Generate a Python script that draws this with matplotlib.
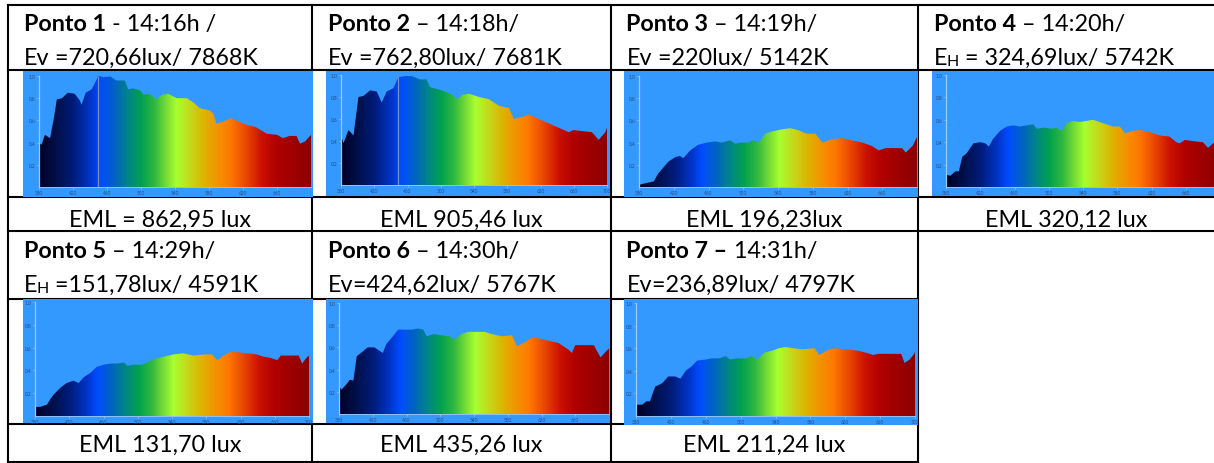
import numpy as np
import matplotlib
matplotlib.use("Agg")
import matplotlib.pyplot as plt
from matplotlib.colors import LinearSegmentedColormap, Normalize
from matplotlib.patches import PathPatch

# ---------------- data ----------------
points = ["Ponto 1", "Ponto 2", "Ponto 3", "Ponto 4", "Ponto 5", "Ponto 6", "Ponto 7 –"]
times = [" - 14:16h /", " – 14:18h/", " – 14:19h/", " – 14:20h/", " – 14:29h/", " – 14:30h/", " 14:31h/"]
# illuminance label: (symbol, subscript, rest)
illum = [("Ev", "", " =720,66lux/ 7868K"), ("Ev", "", " =762,80lux/ 7681K"),
         ("Ev", "", " =220lux/ 5142K"), ("E", "H", " = 324,69lux/ 5742K"),
         ("E", "H", " =151,78lux/ 4591K"), ("Ev", "", "=424,62lux/ 5767K"),
         ("Ev", "", "=236,89lux/ 4797K")]
eml = ["EML = 862,95 lux", "EML 905,46 lux", "EML 196,23lux", "EML 320,12 lux",
       "EML 131,70 lux", "EML 435,26 lux", "EML 211,24 lux"]

wl1 = [380, 383, 387, 393, 397, 401, 407, 414, 422, 428, 430, 435, 442, 450, 456, 464, 471, 481, 485, 491, 499, 503, 510, 518, 524, 532, 542, 554, 562, 569, 581, 585, 589, 597, 605, 612, 624, 635, 648, 660, 667, 675, 683, 687, 693, 700]
sp1 = [0.40, 0.38, 0.47, 0.44, 0.60, 0.79, 0.80, 0.85, 0.84, 0.78, 0.74, 0.85, 0.88, 1.00, 0.99, 0.995, 0.96, 0.96, 0.88, 0.89, 0.87, 0.83, 0.84, 0.79, 0.83, 0.84, 0.80, 0.80, 0.76, 0.71, 0.69, 0.66, 0.57, 0.59, 0.62, 0.60, 0.56, 0.54, 0.48, 0.47, 0.44, 0.46, 0.46, 0.39, 0.41, 0.47]

wl2 = [380, 383, 389, 395, 401, 407, 415, 423, 429, 435, 443, 449, 457, 465, 475, 483, 487, 497, 505, 514, 520, 526, 534, 546, 558, 570, 582, 588, 598, 606, 618, 630, 642, 654, 660, 670, 682, 690, 698, 700]
sp2 = [0.45, 0.38, 0.50, 0.45, 0.80, 0.81, 0.86, 0.85, 0.75, 0.85, 0.88, 0.98, 0.99, 0.99, 0.96, 0.96, 0.89, 0.87, 0.85, 0.82, 0.78, 0.82, 0.83, 0.80, 0.78, 0.72, 0.70, 0.60, 0.62, 0.64, 0.60, 0.56, 0.52, 0.48, 0.50, 0.49, 0.48, 0.41, 0.48, 0.52]

wl3 = [380, 391, 397, 402, 414, 422, 427, 431, 439, 448, 458, 468, 475, 485, 491, 498, 506, 511, 518, 525, 533, 545, 554, 564, 573, 583, 591, 602, 614, 625, 637, 648, 656, 664, 675, 683, 687, 695, 700]
sp3 = [0.02, 0.04, 0.05, 0.12, 0.23, 0.27, 0.28, 0.26, 0.33, 0.38, 0.40, 0.41, 0.40, 0.42, 0.39, 0.40, 0.40, 0.42, 0.40, 0.48, 0.50, 0.52, 0.53, 0.51, 0.48, 0.48, 0.40, 0.43, 0.44, 0.42, 0.40, 0.37, 0.33, 0.35, 0.35, 0.35, 0.31, 0.37, 0.45]

wl4 = [380, 385, 391, 395, 399, 404, 412, 420, 426, 430, 435, 443, 451, 459, 466, 474, 482, 486, 494, 503, 509, 515, 521, 528, 536, 544, 552, 563, 575, 583, 589, 598, 606, 618, 630, 641, 649, 653, 659, 668, 680, 686, 692, 700]
sp4 = [0.11, 0.10, 0.14, 0.14, 0.27, 0.30, 0.39, 0.40, 0.39, 0.36, 0.43, 0.50, 0.54, 0.55, 0.54, 0.55, 0.56, 0.52, 0.53, 0.52, 0.53, 0.50, 0.57, 0.59, 0.58, 0.59, 0.60, 0.57, 0.54, 0.54, 0.48, 0.50, 0.51, 0.49, 0.46, 0.45, 0.40, 0.39, 0.42, 0.41, 0.40, 0.35, 0.39, 0.44]

wl5 = [380, 386, 394, 398, 402, 410, 417, 425, 431, 437, 445, 452, 460, 468, 476, 484, 488, 495, 505, 511, 519, 530, 542, 553, 565, 577, 587, 593, 600, 608, 616, 628, 639, 647, 655, 663, 667, 678, 688, 692, 697, 700]
sp5 = [0.08, 0.08, 0.10, 0.15, 0.19, 0.25, 0.29, 0.31, 0.29, 0.34, 0.38, 0.43, 0.45, 0.46, 0.46, 0.47, 0.44, 0.45, 0.45, 0.47, 0.50, 0.52, 0.54, 0.55, 0.53, 0.54, 0.54, 0.49, 0.53, 0.56, 0.56, 0.55, 0.54, 0.52, 0.51, 0.49, 0.53, 0.53, 0.53, 0.46, 0.51, 0.53]

wl6 = [380, 383, 389, 393, 397, 401, 406, 414, 422, 428, 432, 436, 444, 450, 458, 466, 474, 480, 484, 492, 501, 511, 517, 525, 533, 541, 553, 561, 573, 585, 591, 601, 609, 618, 628, 640, 652, 656, 660, 672, 682, 690, 696, 700]
sp6 = [0.25, 0.22, 0.27, 0.31, 0.30, 0.52, 0.55, 0.60, 0.60, 0.57, 0.55, 0.63, 0.70, 0.76, 0.76, 0.76, 0.77, 0.76, 0.70, 0.72, 0.71, 0.70, 0.67, 0.72, 0.74, 0.74, 0.74, 0.72, 0.70, 0.71, 0.61, 0.65, 0.69, 0.68, 0.66, 0.64, 0.58, 0.55, 0.62, 0.62, 0.62, 0.51, 0.56, 0.59]

wl7 = [380, 387, 392, 396, 402, 410, 417, 425, 431, 437, 444, 450, 460, 467, 475, 483, 488, 496, 506, 513, 519, 527, 537, 544, 552, 560, 571, 585, 590, 602, 609, 621, 633, 644, 652, 658, 663, 675, 684, 688, 694, 699, 702]
sp7 = [0.10, 0.10, 0.13, 0.13, 0.26, 0.29, 0.35, 0.35, 0.33, 0.40, 0.44, 0.49, 0.50, 0.51, 0.51, 0.53, 0.50, 0.51, 0.51, 0.53, 0.50, 0.56, 0.58, 0.60, 0.61, 0.60, 0.59, 0.60, 0.54, 0.59, 0.60, 0.59, 0.58, 0.56, 0.54, 0.55, 0.55, 0.55, 0.55, 0.47, 0.50, 0.55, 0.61]

wavelengths = [wl1, wl2, wl3, wl4, wl5, wl6, wl7]
spectra = [sp1, sp2, sp3, sp4, sp5, sp6, sp7]
cursor_nm = [449, 448, None, None, None, None, None]
cursor_val = [0.99, 0.98, None, None, None, None, None]

x_ticks = [380, 420, 460, 500, 540, 580, 620, 660, 700]
y_ticks = [0.2, 0.4, 0.6, 0.8, 1.0]
y_ticklabels = ["0.2", "0.4", "0.6", "0.8", "1.0"]

# ---------------- style ----------------
FONT = "Lato"
plt.rcParams["font.family"] = [FONT, "DejaVu Sans"]
FS = 16.8
BG = "#3399FF"
AXC = "#9ccaf7"

spec_cmap = LinearSegmentedColormap.from_list("spec", [
    (0.0, "#000026"), (20/320, "#00104a"), (40/320, "#001c7a"), (60/320, "#0034c8"),
    (72/320, "#004cff"), (88/320, "#0062c4"), (104/320, "#00848a"), (120/320, "#00a050"),
    (136/320, "#30b840"), (150/320, "#78dc36"), (162/320, "#a8ff30"), (180/320, "#c8d418"),
    (196/320, "#dfb000"), (212/320, "#f59000"), (226/320, "#ff7800"), (245/320, "#e84400"),
    (262/320, "#cc1200"), (280/320, "#b00000"), (1.0, "#8c0000")])

W, H = 1214, 464
fig = plt.figure(figsize=(W / 100, H / 100), dpi=100)
ax = fig.add_axes([0, 0, 1, 1])
ax.set_xlim(0, W)
ax.set_ylim(H, 0)
ax.axis("off")

LW = 1.5
def hline(y, x0, x1):
    ax.plot([x0, x1], [y, y], color="black", lw=LW, solid_capstyle="projecting")
def vline(x, y0, y1):
    ax.plot([x, x], [y0, y1], color="black", lw=LW, solid_capstyle="projecting")

cols = [8, 312, 611, 918, 1214]
for y in [6, 71, 198, 232]:
    hline(y, 8, 1214)
for y in [300, 425, 463]:
    hline(y, 8, 918)
for x in cols[:4]:
    vline(x, 6, 463)

# text cells
cell_left = [8, 312, 611, 918, 8, 312, 611]
cell_right = [312, 611, 918, 1214, 312, 611, 918]
row_base = [(31, 65, 227)] * 4 + [(258, 292, 452)] * 3
for i in range(7):
    x = cell_left[i] + 15.5
    b1, b2, b3 = row_base[i]
    t = ax.text(x, b1, points[i], fontsize=FS, fontweight="bold", va="baseline", ha="left")
    ax.annotate(times[i], xy=(1, b1), xycoords=(t, "data"), fontsize=FS,
                va="baseline", ha="left")
    sym, sub, rest = illum[i]
    t2 = ax.text(x, b2, sym, fontsize=FS, va="baseline", ha="left")
    if sub:
        t2 = ax.annotate(sub, xy=(1, b2 + 1.5), xycoords=(t2, "data"), fontsize=FS * 0.68,
                         va="baseline", ha="left")
    ax.annotate(rest, xy=(1, b2), xycoords=(t2, "data"), fontsize=FS,
                va="baseline", ha="left")
    ax.text((cell_left[i] + cell_right[i]) / 2, b3, eml[i], fontsize=FS,
            va="baseline", ha="center")

# spectrum images: image box and inner data box in pixels (x0, y0, x1, y1)
img_boxes = [(23, 72, 313, 198), (326, 72, 610, 197), (624, 72, 918, 198), (932, 72, 1214, 197),
             (23, 300, 313, 424), (326, 300, 610, 424), (624, 300, 918, 426)]
data_boxes = [(39, 77, 311, 188), (341, 76, 607, 186), (639, 77, 917, 188), (946, 76, 1220, 188),
              (35, 303, 309, 417), (339, 304, 609, 415), (636, 304, 915, 417)]

def fbox(b):
    x0, y0, x1, y1 = b
    return [x0 / W, 1 - y1 / H, (x1 - x0) / W, (y1 - y0) / H]

grad = np.linspace(380, 700, 640).reshape(1, -1)
for i in range(7):
    bg = fig.add_axes(fbox(img_boxes[i]))
    bg.set_facecolor(BG)
    bg.set_xticks([]); bg.set_yticks([])
    for s in bg.spines.values():
        s.set_visible(False)

    a = fig.add_axes(fbox(data_boxes[i]))
    a.set_facecolor("none")
    a.set_xlim(380, 700)
    a.set_ylim(0, 1)
    wl = np.array(wavelengths[i], dtype=float)
    sp = np.array(spectra[i], dtype=float)
    poly = a.fill_between(wl, sp, 0, facecolor="none", edgecolor="none")
    patch = PathPatch(poly.get_paths()[0], transform=a.transData, facecolor="none", edgecolor="none")
    a.add_patch(patch)
    im = a.imshow(grad, extent=(380, 700, 0, 1), aspect="auto", cmap=spec_cmap,
                  norm=Normalize(380, 700), interpolation="bilinear", origin="lower")
    im.set_clip_path(patch)
    if cursor_nm[i] is not None:
        a.plot([cursor_nm[i], cursor_nm[i]], [0, cursor_val[i]], color="#7f8fb0", lw=0.9)
    # keep only ticks whose position falls inside the visible image
    x0d, _, x1d, _ = data_boxes[i]
    vis_right = img_boxes[i][2]
    ticks = [v for v in x_ticks if x0d + (v - 380) / 320 * (x1d - x0d) <= vis_right - 3]
    a.set_xticks(ticks)
    a.set_xticklabels([str(v) for v in ticks])
    a.set_yticks(y_ticks)
    a.set_yticklabels(y_ticklabels)
    a.tick_params(axis="both", labelsize=3.4, labelcolor="#2a4a80", color=AXC,
                  length=1.2, width=0.5, pad=1.2)
    for s in ["top", "right"]:
        a.spines[s].set_visible(False)
    a.spines["left"].set_color(AXC)
    a.spines["left"].set_linewidth(0.9)
    a.spines["bottom"].set_color(AXC)
    a.spines["bottom"].set_linewidth(0.6)

fig.savefig("out.png", dpi=100)
